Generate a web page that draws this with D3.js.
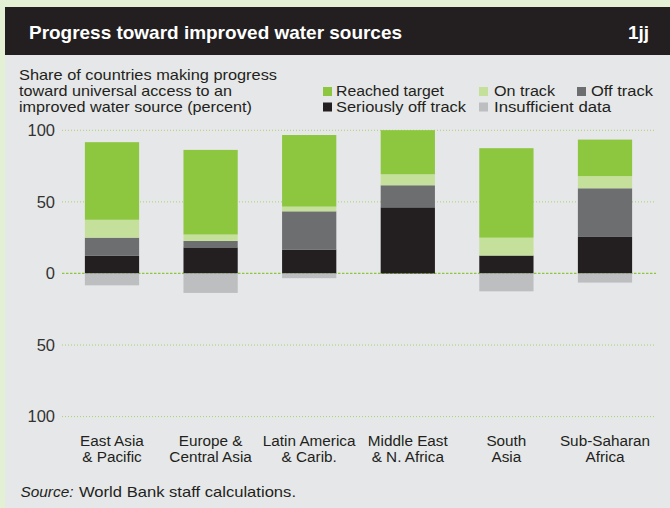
<!DOCTYPE html>
<html><head><meta charset="utf-8">
<script src="https://cdn.jsdelivr.net/npm/d3@7"></script>
<style>body{margin:0;background:#e4f0d4;} svg{display:block;font-family:"Liberation Sans",Arial,sans-serif;}</style>
</head><body><svg id="c" width="670" height="508"></svg>
<script>
const categories = [["East Asia","& Pacific"],["Europe &","Central Asia"],["Latin America","& Carib."],["Middle East","& N. Africa"],["South","Asia"],["Sub-Saharan","Africa"]];
const seriouslyOffTrack = [12.5, 18.2, 16.7, 46.2, 12.5, 25.5];
const offTrack = [12.5, 4.5, 26.7, 15.4, 0, 34.0];
const onTrack = [12.5, 4.5, 3.3, 7.7, 12.5, 8.5];
const reachedTarget = [54.2, 59.1, 50.0, 30.8, 62.5, 25.5];
const insufficientData = [8.3, 13.6, 3.3, 0, 12.5, 6.4];
const yTicks = [-100, -50, 0, 50, 100];
const title = "Progress toward improved water sources";
const chartNo = "1jj";
const subtitle = ["Share of countries making progress","toward universal access to an","improved water source (percent)"];

const colors = {
  "Reached target":"#8dc63f","On track":"#c5e09b","Off track":"#6d6e70",
  "Seriously off track":"#231f20","Insufficient data":"#bcbec0"
};

// fit text to a target width
function fit(sel, w){ sel.attr("textLength", w).attr("lengthAdjust","spacingAndGlyphs"); }

const svg = d3.select("#c");
svg.append("rect").attr("width",670).attr("height",508).attr("fill","#e4f0d4");
svg.append("rect").attr("x",5).attr("y",7).attr("width",665).attr("height",48).attr("fill","#231f20");
svg.append("rect").attr("x",5).attr("y",55).attr("width",665).attr("height",453).attr("fill","#e6e7e8");

svg.append("text").attr("x",29).attr("y",39).attr("fill","#fff").attr("font-weight","bold").attr("font-size",18.5).text(title).call(fit,373);
svg.append("text").attr("x",649).attr("y",39).attr("fill","#fff").attr("font-weight","bold").attr("font-size",19).attr("text-anchor","end").text(chartNo);

const subW = [258, 213, 233];
svg.append("g").selectAll("text").data(subtitle).join("text")
  .attr("x",19).attr("y",(d,i)=>80+i*16).attr("fill","#231f20").attr("font-size",14.5)
  .attr("textLength",(d,i)=>subW[i]).attr("lengthAdjust","spacingAndGlyphs").text(d=>d);

// legend
const legendItems = [
  {name:"Reached target", sx:323, tx:336, y:96, w:108},
  {name:"On track", sx:479, tx:494, y:96, w:61},
  {name:"Off track", sx:577, tx:591, y:96, w:62},
  {name:"Seriously off track", sx:323, tx:336, y:111.5, w:130},
  {name:"Insufficient data", sx:479, tx:494, y:111.5, w:117}
];
const lg = svg.append("g");
lg.selectAll("rect").data(legendItems).join("rect")
  .attr("x",d=>d.sx).attr("y",d=>d.y-9).attr("width",9).attr("height",9).attr("fill",d=>colors[d.name]);
lg.selectAll("text").data(legendItems).join("text")
  .attr("x",d=>d.tx).attr("y",d=>d.y).attr("font-size",13.8).attr("fill","#231f20")
  .attr("textLength",d=>d.w).attr("lengthAdjust","spacingAndGlyphs").text(d=>d.name);

const x = d3.scaleBand().domain(d3.range(categories.length)).range([62.7,654.3]).paddingInner(0.45).paddingOuter(0.225);
const y = d3.scaleLinear().domain([-100,100]).range([416.6,130.3]);

// gridlines
svg.append("g").selectAll("line").data(yTicks).join("line")
  .attr("x1",62).attr("x2",656).attr("y1",d=>y(d)).attr("y2",d=>y(d))
  .attr("stroke",d=>d===0?"#8dc63f":"#a9d170").attr("stroke-width",d=>d===0?1.2:1)
  .attr("stroke-dasharray",d=>d===0?"2.5,1.5":"1,2");

// y labels
const yAxis = d3.axisLeft(y).tickValues(yTicks).tickSize(0).tickPadding(0).tickFormat(d=>Math.abs(d));
const ya = svg.append("g").attr("transform","translate(55,0)").call(yAxis);
ya.select(".domain").remove();
ya.selectAll("text").attr("font-size",16.5).attr("fill","#333").attr("font-family","Liberation Sans,Arial,sans-serif");

// stacks
const series = [
  {name:"Seriously off track", vals:seriouslyOffTrack},
  {name:"Off track", vals:offTrack},
  {name:"On track", vals:onTrack},
  {name:"Reached target", vals:reachedTarget}
];
const segs = [];
categories.forEach((c,i)=>{
  let base = 0;
  series.forEach(s=>{ segs.push({i, name:s.name, y0:base, y1:base+s.vals[i]}); base += s.vals[i]; });
  segs.push({i, name:"Insufficient data", y0:-insufficientData[i], y1:0});
});
svg.append("g").selectAll("rect").data(segs.filter(d=>d.y1>d.y0)).join("rect")
  .attr("x",d=>x(d.i)).attr("width",x.bandwidth())
  .attr("y",d=>y(d.y1)).attr("height",d=>y(d.y0)-y(d.y1))
  .attr("fill",d=>colors[d.name]);

// x labels
const xl = svg.append("g").selectAll("text").data(categories).join("text")
  .attr("x",(d,i)=>x(i)+x.bandwidth()/2).attr("text-anchor","middle").attr("font-size",15.3).attr("fill","#231f20");
xl.selectAll("tspan").data(d=>d).join("tspan")
  .attr("x",function(){return this.parentNode.getAttribute("x");})
  .attr("y",(d,j)=>446+j*16).text(d=>d);

// source
const src = svg.append("text").attr("y",497).attr("font-size",15).attr("fill","#231f20");
src.append("tspan").attr("x",20.5).attr("font-style","italic").attr("textLength",53).attr("lengthAdjust","spacingAndGlyphs").text("Source:");
src.append("tspan").attr("x",79).attr("textLength",217).attr("lengthAdjust","spacingAndGlyphs").text("World Bank staff calculations.");
</script></body></html>
